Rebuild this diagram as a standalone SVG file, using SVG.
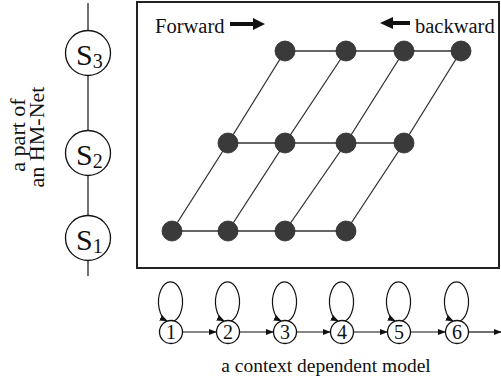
<svg xmlns="http://www.w3.org/2000/svg" width="501" height="389" viewBox="0 0 501 389">
  <style>
    .txt { font-family: "Liberation Serif", "Times New Roman", serif; fill: #111; }
    .state { fill: #fff; stroke: #111; stroke-width: 1.3; }
    .grid { fill: #3a3a3a; stroke: #2a2a2a; stroke-width: 0.8; }
    .gline { stroke: #333; stroke-width: 1.3; fill: none; }
    .arc { stroke: #111; stroke-width: 1.2; fill: none; }
    .chain { fill: #fff; stroke: #111; stroke-width: 1.3; }
  </style>
  <defs>
    <marker id="ah" viewBox="0 0 10 10" refX="9" refY="5" markerWidth="8" markerHeight="8" markerUnits="userSpaceOnUse" orient="auto">
      <path d="M0,1 L10,5 L0,9 Z" fill="#111"/>
    </marker>
  </defs>
  <rect width="501" height="389" fill="#fff"/>

  <!-- HM-Net column -->
  <g id="hmnet-line">
    <line x1="88" y1="3" x2="88" y2="276" stroke="#111" stroke-width="1.2"/>
  </g>
  <g id="s3">
    <circle class="state" cx="88" cy="53" r="22.5"/>
    <text class="txt" x="76" y="65" font-size="30">S<tspan font-size="20" dy="3">3</tspan></text>
  </g>
  <g id="s2">
    <circle class="state" cx="88" cy="153" r="22.5"/>
    <text class="txt" x="76" y="165" font-size="30">S<tspan font-size="20" dy="3">2</tspan></text>
  </g>
  <g id="s1">
    <circle class="state" cx="88" cy="238" r="22.5"/>
    <text class="txt" x="76" y="250" font-size="30">S<tspan font-size="20" dy="3">1</tspan></text>
  </g>
  <g id="hmnet-label">
    <text class="txt" font-size="22" text-anchor="middle" transform="translate(25,135) rotate(-90)">a part of</text>
    <text class="txt" font-size="22" text-anchor="middle" transform="translate(44,137) rotate(-90)">an HM-Net</text>
  </g>

  <!-- search frame -->
  <g id="frame">
    <rect x="137" y="2" width="362" height="266" fill="none" stroke="#222" stroke-width="2"/>
    <text class="txt" x="155" y="33" font-size="20.5">Forward</text>
    <path d="M230,22 L253,22 L253,18 L265,24 L253,30 L253,26 L230,26 Z" fill="#111"/>
    <path d="M410,21 L393,21 L393,17 L380,23 L393,29 L393,25 L410,25 Z" fill="#111"/>
    <text class="txt" x="415" y="33" font-size="20.5">backward</text>
  </g>

  <!-- lattice connectors -->
  <g id="lattice-edges">
    <polyline class="gline" points="285,51 346,51 404,51 461,51"/>
    <polyline class="gline" points="228,143 285,143 346,143 404,143"/>
    <polyline class="gline" points="172,231 228,231 285,231 346,231"/>
    <polyline class="gline" points="172,231 228,143 285,51"/>
    <polyline class="gline" points="228,231 285,143 346,51"/>
    <polyline class="gline" points="285,231 346,143 404,51"/>
    <polyline class="gline" points="346,231 404,143 461,51"/>
  </g>

  <!-- lattice nodes -->
  <g id="n-t1"><circle class="grid" cx="285" cy="51" r="10"/></g>
  <g id="n-t2"><circle class="grid" cx="346" cy="51" r="10"/></g>
  <g id="n-t3"><circle class="grid" cx="404" cy="51" r="10"/></g>
  <g id="n-t4"><circle class="grid" cx="461" cy="51" r="10"/></g>
  <g id="n-m1"><circle class="grid" cx="228" cy="143" r="10"/></g>
  <g id="n-m2"><circle class="grid" cx="285" cy="143" r="10"/></g>
  <g id="n-m3"><circle class="grid" cx="346" cy="143" r="10"/></g>
  <g id="n-m4"><circle class="grid" cx="404" cy="143" r="10"/></g>
  <g id="n-b1"><circle class="grid" cx="172" cy="231" r="10"/></g>
  <g id="n-b2"><circle class="grid" cx="228" cy="231" r="10"/></g>
  <g id="n-b3"><circle class="grid" cx="285" cy="231" r="10"/></g>
  <g id="n-b4"><circle class="grid" cx="346" cy="231" r="10"/></g>

  <!-- chain connectors: self loops and forward transitions -->
  <g id="chain-edges">
    <path class="arc" d="M174,321 A12 20 0 1 0 167,321" marker-end="url(#ah)"/>
    <path class="arc" d="M231,321 A12 20 0 1 0 224,321" marker-end="url(#ah)"/>
    <path class="arc" d="M288,321 A12 20 0 1 0 281,321" marker-end="url(#ah)"/>
    <path class="arc" d="M345,321 A12 20 0 1 0 338,321" marker-end="url(#ah)"/>
    <path class="arc" d="M402,321 A12 20 0 1 0 395,321" marker-end="url(#ah)"/>
    <path class="arc" d="M460,321 A12 20 0 1 0 453,321" marker-end="url(#ah)"/>
    <line class="arc" x1="183" y1="332" x2="216" y2="332" marker-end="url(#ah)"/>
    <line class="arc" x1="240" y1="332" x2="273" y2="332" marker-end="url(#ah)"/>
    <line class="arc" x1="297" y1="332" x2="330" y2="332" marker-end="url(#ah)"/>
    <line class="arc" x1="354" y1="332" x2="387" y2="332" marker-end="url(#ah)"/>
    <line class="arc" x1="411" y1="332" x2="445" y2="332" marker-end="url(#ah)"/>
    <line class="arc" x1="469" y1="332" x2="501" y2="332" marker-end="url(#ah)"/>
  </g>

  <!-- chain states -->
  <g id="c1"><circle class="chain" cx="171" cy="332" r="11.5"/><text class="txt" x="171" y="339" font-size="20" text-anchor="middle">1</text></g>
  <g id="c2"><circle class="chain" cx="228" cy="332" r="11.5"/><text class="txt" x="228" y="339" font-size="20" text-anchor="middle">2</text></g>
  <g id="c3"><circle class="chain" cx="285" cy="332" r="11.5"/><text class="txt" x="285" y="339" font-size="20" text-anchor="middle">3</text></g>
  <g id="c4"><circle class="chain" cx="342" cy="332" r="11.5"/><text class="txt" x="342" y="339" font-size="20" text-anchor="middle">4</text></g>
  <g id="c5"><circle class="chain" cx="399" cy="332" r="11.5"/><text class="txt" x="399" y="339" font-size="20" text-anchor="middle">5</text></g>
  <g id="c6"><circle class="chain" cx="457" cy="332" r="11.5"/><text class="txt" x="457" y="339" font-size="20" text-anchor="middle">6</text></g>

  <text class="txt" x="326" y="372" font-size="19.5" text-anchor="middle">a context dependent model</text>
</svg>
